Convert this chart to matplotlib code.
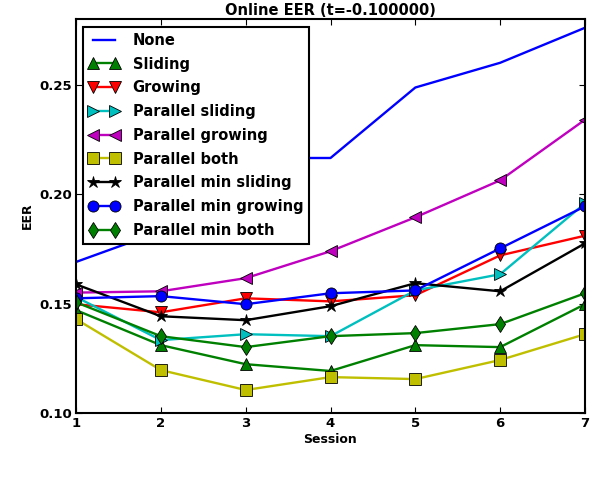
import matplotlib
matplotlib.use("Agg")
import matplotlib.pyplot as plt

sessions = [1, 2, 3, 4, 5, 6, 7]
none_vals = [0.169, 0.183, 0.2165, 0.2165, 0.2487, 0.260, 0.276]
sliding = [0.147, 0.131, 0.1223, 0.1192, 0.131, 0.1301, 0.1497]
growing = [0.1497, 0.146, 0.1524, 0.151, 0.1538, 0.172, 0.181]
par_sliding = [0.153, 0.1333, 0.136, 0.1351, 0.156, 0.1634, 0.1958]
par_growing = [0.155, 0.1556, 0.1616, 0.1739, 0.1894, 0.2063, 0.234]
par_both = [0.1429, 0.1196, 0.1105, 0.1164, 0.1155, 0.1242, 0.136]
par_min_sliding = [0.1588, 0.1442, 0.1424, 0.1488, 0.1593, 0.1556, 0.1775]
par_min_growing = [0.1524, 0.1534, 0.1497, 0.1547, 0.156, 0.1752, 0.1944]
par_min_both = [0.1506, 0.1351, 0.1301, 0.1351, 0.1365, 0.1406, 0.1547]

labels = ["None", "Sliding", "Growing", "Parallel sliding", "Parallel growing",
          "Parallel both", "Parallel min sliding", "Parallel min growing",
          "Parallel min both"]
series = [none_vals, sliding, growing, par_sliding, par_growing, par_both,
          par_min_sliding, par_min_growing, par_min_both]
colors = ["#0000ff", "#008000", "#ff0000", "#00bfbf", "#bf00bf", "#bfbf00",
          "#000000", "#0000ff", "#008000"]
markers = [None, "^", "v", ">", "<", "s", "*", "o", "d"]
xticks = [1, 2, 3, 4, 5, 6, 7]
yticks = [0.10, 0.15, 0.20, 0.25]

plt.rcParams['font.family'] = ['DejaVu Sans']
plt.rcParams['font.weight'] = 'bold'

fig = plt.figure(figsize=(5.9, 4.78), dpi=100)
ax = fig.add_axes([76/590, 1 - 413/478, (585 - 76)/590, (413 - 19)/478])

for vals, lab, c, m in zip(series, labels, colors, markers):
    ms = 9 if m == "*" else 8
    ax.plot(sessions, vals, color=c, marker=m, markersize=ms, lw=1.7,
            markeredgecolor='black', markeredgewidth=0.6, label=lab)

ax.set_xlim(1, 7)
ax.set_ylim(0.10, 0.28)
ax.set_xticks(xticks)
ax.set_yticks(yticks)
ax.set_yticklabels([f"{v:.2f}" for v in yticks])
ax.tick_params(direction='in', length=4, width=0.8, top=True, right=True,
               labelsize=9.5, pad=3)
for lbl in ax.get_xticklabels() + ax.get_yticklabels():
    lbl.set_fontweight('bold')
for sp in ax.spines.values():
    sp.set_linewidth(1.5)

ax.set_xlabel("Session", fontsize=9, fontweight='bold', labelpad=2)
ax.set_ylabel("EER", fontsize=9, fontweight='bold', labelpad=4)
ax.set_title("Online EER (t=-0.100000)", fontsize=10.5, fontweight='bold', pad=3)

leg = ax.legend(loc='upper left', bbox_to_anchor=(7/509, 1 - 8/394),
                borderaxespad=0, numpoints=2, fancybox=False, framealpha=1,
                prop={'size': 10.5, 'weight': 'bold'}, labelspacing=0.6,
                handlelength=2.1, handletextpad=0.9, borderpad=0.4)
leg.get_frame().set_edgecolor('black')
leg.get_frame().set_linewidth(1.5)

fig.savefig("out.png", dpi=100)
